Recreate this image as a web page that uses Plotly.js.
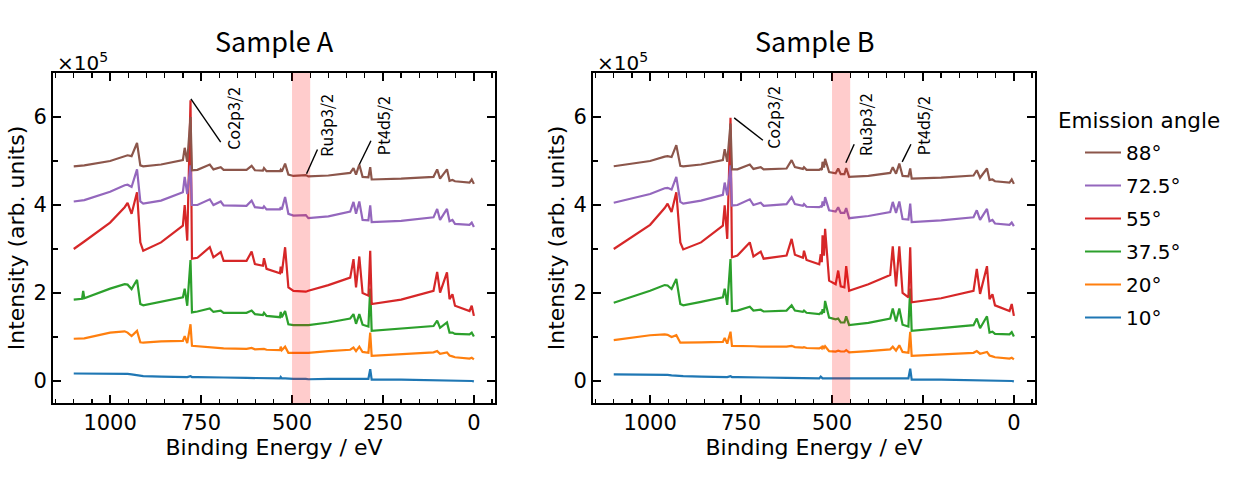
<!DOCTYPE html>
<html><head><meta charset="utf-8">
<script src="https://cdn.plot.ly/plotly-3.0.1.min.js"></script>
<style>html,body{margin:0;padding:0;background:#fff}#chart{width:1240px;height:500px}</style>
</head><body><div id="chart"></div>
<script>
// ---- data (intensity in units of 1e5) ----
const angles = ['10°','20°','37.5°','55°','72.5°','88°'];
const colors = ['#1f77b4','#ff7f0e','#2ca02c','#d62728','#9467bd','#8c564b'];

const energyA = [1100,1077,1074,1071,1000,
  960,952,941,926,917,909,860,
  800,795,788,779,775,760,
  726,716,696,688,625,611,602,
  580,577,570,533,531,528,519,510,
  496,462,455,400,
  340,331,324,315,306,290,285,281,
  200,111,101,93,74,67,59,52,
  12,6,0];
const A_10 = [.17,.17,.17,.17,.17,
  .17,.16,.15,.13,.11,.11,.10,
  .09,.09,.09,.11,.09,.09,
  .08,.08,.08,.08,.07,.07,.07,
  .06,.06,.06,.06,.09,.06,.06,.05,
  .05,.05,.04,.05,
  .05,.05,.05,.05,.05,.05,.27,.03,
  .03,.02,.02,.02,.02,.01,.01,.01,
  0,0,-.01];
const A_20 = [.96,.97,.97,.97,1.10,
  1.13,1.10,1.02,1.14,.88,.87,.90,
  .91,1.02,.86,1.29,.80,.79,
  .77,.76,.74,.74,.73,.75,.72,
  .72,.73,.71,.70,.78,.70,.78,.64,
  .64,.65,.64,.68,
  .71,.76,.68,.78,.66,.64,1.10,.57,
  .60,.65,.68,.62,.65,.58,.56,.54,
  .51,.53,.49];
const A_37 = [1.85,1.87,2.05,1.88,2.10,
  2.20,2.19,2.09,2.30,1.75,1.72,1.80,
  1.90,2.10,1.71,2.75,1.56,1.58,
  1.65,1.57,1.60,1.55,1.55,1.60,1.52,
  1.50,1.55,1.48,1.45,1.57,1.45,1.59,1.29,
  1.27,1.27,1.27,1.33,
  1.42,1.52,1.30,1.52,1.28,1.24,2.10,1.14,
  1.20,1.25,1.37,1.21,1.33,1.10,1.10,1.07,
  1.06,1.10,1.01];
const A_55 = [3.00,3.15,3.15,3.17,3.60,
  3.95,4.05,3.80,4.29,3.15,2.96,3.15,
  3.53,4.00,3.19,6.38,2.78,2.80,
  3.04,2.81,2.93,2.73,2.73,2.94,2.66,
  2.62,2.79,2.55,2.45,2.60,2.45,3.04,2.13,
  2.05,2.03,2.05,2.18,
  2.35,2.77,2.13,2.83,2.00,1.94,2.96,1.75,
  1.85,2.05,2.48,2.01,2.47,1.86,1.97,1.71,
  1.59,1.71,1.48];
const A_72 = [4.08,4.10,4.10,4.11,4.30,
  4.45,4.46,4.41,4.81,4.08,4.03,4.10,
  4.29,4.64,4.25,4.90,4.00,4.00,
  4.13,4.00,4.08,3.99,3.98,4.10,3.95,
  3.93,3.97,3.90,3.90,3.95,3.90,4.18,3.80,
  3.76,3.77,3.70,3.74,
  3.85,4.07,3.80,4.08,3.66,3.65,3.99,3.61,
  3.64,3.72,3.91,3.66,3.91,3.63,3.66,3.57,
  3.55,3.60,3.50];
const A_88 = [4.88,4.90,4.90,4.90,5.00,
  5.12,5.13,5.11,5.41,4.90,4.88,4.92,
  5.02,5.30,4.98,6.00,4.79,4.80,
  4.92,4.81,4.86,4.80,4.80,4.89,4.79,
  4.78,4.84,4.77,4.77,4.80,4.76,4.94,4.69,
  4.66,4.68,4.65,4.67,
  4.73,4.84,4.69,4.92,4.64,4.63,4.86,4.58,
  4.60,4.64,4.81,4.60,4.81,4.55,4.57,4.54,
  4.51,4.58,4.48];

const energyB = [1100,1000,
  960,952,941,928,917,909,860,
  800,795,788,779,775,760,
  726,716,696,688,625,611,602,
  580,577,570,535,531,528,526,522,519,508,
  490,483,476,466,461,453,400,
  340,333,324,315,306,290,285,281,
  200,111,102,93,74,67,59,52,
  12,6,0];
const B_10 = [.15,.15,
  .15,.14,.13,.12,.11,.11,.10,
  .09,.09,.09,.11,.09,.09,
  .08,.08,.08,.08,.07,.07,.07,
  .06,.06,.06,.06,.10,.06,.06,.06,.06,.05,
  .05,.05,.05,.05,.06,.05,.05,
  .06,.06,.06,.06,.06,.06,.28,.03,
  .03,.02,.02,.02,.02,.01,.01,.01,
  0,0,-.01];
const B_20 = [.93,1.04,
  1.06,1.05,1.00,1.04,.87,.87,.88,
  .89,.98,.85,1.12,.80,.80,
  .80,.79,.78,.78,.78,.80,.77,
  .76,.77,.75,.74,.76,.74,.80,.75,.79,.68,
  .67,.69,.67,.67,.70,.65,.68,
  .72,.78,.69,.81,.66,.64,1.12,.57,
  .60,.64,.68,.62,.66,.58,.56,.54,
  .51,.53,.49];
const B_37 = [1.78,2.05,
  2.18,2.17,2.09,2.32,1.75,1.72,1.80,
  1.90,2.10,1.73,2.77,1.59,1.60,
  1.69,1.60,1.62,1.58,1.60,1.72,1.60,
  1.57,1.60,1.55,1.52,1.55,1.52,1.63,1.55,1.82,1.44,
  1.40,1.42,1.33,1.33,1.47,1.27,1.32,
  1.42,1.65,1.35,1.65,1.28,1.24,2.10,1.14,
  1.20,1.27,1.42,1.20,1.47,1.10,1.12,1.07,
  1.06,1.11,1.01];
const B_55 = [3.00,3.55,
  3.93,4.03,3.84,4.29,3.15,2.99,3.15,
  3.53,3.99,3.23,5.98,2.81,2.85,
  3.15,2.83,2.94,2.78,2.85,3.23,2.87,
  2.80,2.96,2.75,2.65,2.88,2.70,3.31,2.85,3.46,2.28,
  2.20,2.51,2.15,2.13,2.61,2.05,2.20,
  2.41,3.06,2.15,3.06,2.00,1.90,3.04,1.79,
  1.88,2.05,2.55,1.98,2.61,1.86,1.97,1.72,
  1.59,1.75,1.48];
const B_72 = [4.05,4.25,
  4.38,4.39,4.35,4.64,4.07,4.03,4.10,
  4.23,4.51,4.22,4.90,3.99,4.00,
  4.13,4.00,4.05,3.98,4.02,4.18,4.02,
  3.98,4.02,3.96,3.95,3.97,3.95,4.08,3.98,4.18,3.88,
  3.85,3.95,3.82,3.82,3.93,3.70,3.75,
  3.84,4.07,3.82,4.08,3.68,3.67,4.03,3.61,
  3.65,3.72,3.88,3.66,3.91,3.63,3.66,3.58,
  3.55,3.60,3.52];
const B_88 = [4.88,5.00,
  5.10,5.11,5.09,5.36,4.89,4.88,4.92,
  5.02,5.27,4.98,5.85,4.81,4.81,
  4.92,4.82,4.86,4.81,4.83,5.02,4.86,
  4.82,4.86,4.80,4.80,4.82,4.80,4.98,4.85,5.05,4.75,
  4.72,4.83,4.70,4.70,4.84,4.64,4.66,
  4.73,4.86,4.71,4.94,4.66,4.65,4.83,4.60,
  4.62,4.67,4.79,4.62,4.83,4.57,4.58,4.54,
  4.51,4.58,4.48];

// shaded region (eV)
const spanE = [450, 500];
// peak labels: leader line from peak to tail, label position
const peakNames = ['Co2p3/2','Ru3p3/2','Pt4d5/2'];
const leadA_peakE = [778,460,315], leadA_peakI = [6.41,4.71,4.92];
const leadA_tailE = [696,430,283], leadA_tailI = [5.43,5.26,5.46];
const labelA_E = [662,407,251],   labelA_I = [5.20,5.06,5.09];
const leadB_peakE = [769,462,307], leadB_peakI = [5.98,4.96,4.98];
const leadB_tailE = [690,439,283], leadB_tailI = [5.47,5.38,5.38];
const labelB_E = [661,409,251],   labelB_I = [5.23,5.06,5.09];

// ---- build ----
const seriesA = [A_10,A_20,A_37,A_55,A_72,A_88];
const seriesB = [B_10,B_20,B_37,B_55,B_72,B_88];
const traces = [];
seriesA.forEach((s,i)=>traces.push({x:energyA,y:s,type:'scatter',mode:'lines',name:angles[i],
  legendgroup:angles[i],legendrank:10-i,line:{color:colors[i],width:2.2},xaxis:'x',yaxis:'y'}));
seriesB.forEach((s,i)=>traces.push({x:energyB,y:s,type:'scatter',mode:'lines',name:angles[i],
  legendgroup:angles[i],legendrank:10-i,showlegend:false,line:{color:colors[i],width:2.2},xaxis:'x2',yaxis:'y2'}));

const FONT = 'DejaVu Sans';
const JFONT = 'Noto Sans CJK JP';
function xax(domain, anchor){
  return {domain:domain, anchor:anchor, range:[1157,-58], tickmode:'linear', tick0:0, dtick:250,
    ticks:'inside', ticklen:8, tickwidth:1.6, tickcolor:'#000', showline:true, linecolor:'#000', linewidth:2,
    mirror:'allticks', showgrid:false, zeroline:false,
    minor:{ticks:'inside', ticklen:4.5, tickwidth:1.3, dtick:50, tick0:0, tickcolor:'#000', showgrid:false},
    tickfont:{family:FONT,size:21,color:'#000'},
    title:{text:'Binding Energy / eV', font:{family:FONT,size:22,color:'#000'}, standoff:4}};
}
function yax(anchor){
  return {domain:[0.194,0.854], anchor:anchor, range:[-0.5,7], tickmode:'linear', tick0:0, dtick:2,
    ticks:'inside', ticklen:8, tickwidth:1.6, tickcolor:'#000', showline:true, linecolor:'#000', linewidth:2,
    mirror:'allticks', showgrid:false, zeroline:false,
    minor:{ticks:'inside', ticklen:4.5, tickwidth:1.3, dtick:1, tick0:0, tickcolor:'#000', showgrid:false},
    tickfont:{family:FONT,size:21,color:'#000'},
    title:{text:'Intensity (arb. units)', font:{family:FONT,size:22,color:'#000'}, standoff:3}};
}

const shapes = [];
const annotations = [];
[['x','y',leadA_peakE,leadA_peakI,leadA_tailE,leadA_tailI,labelA_E,labelA_I],
 ['x2','y2',leadB_peakE,leadB_peakI,leadB_tailE,leadB_tailI,labelB_E,labelB_I]].forEach(p=>{
  const [xr,yr,pE,pI,tE,tI,lE,lI] = p;
  shapes.push({type:'rect', xref:xr, yref:yr+' domain', x0:spanE[0], x1:spanE[1], y0:0, y1:1,
    fillcolor:'rgba(255,0,0,0.2)', line:{width:0}, layer:'above'});
  peakNames.forEach((n,i)=>{
    shapes.push({type:'line', xref:xr, yref:yr, x0:pE[i], y0:pI[i], x1:tE[i], y1:tI[i],
      line:{color:'#000', width:1.4}});
    annotations.push({xref:xr, yref:yr, x:lE[i], y:lI[i], text:n, showarrow:false, textangle:-90,
      xanchor:'center', yanchor:'bottom', font:{family:JFONT, size:16, color:'#000'}});
  });
});
const titles = [['Sample A',274],['Sample B',814]];
titles.forEach(t=>annotations.push({xref:'paper',yref:'paper',x:t[1]/1240,y:1-41/500,text:t[0],showarrow:false,
  xanchor:'center',yanchor:'middle',font:{family:JFONT,size:27,color:'#000'}}));
[55,595].forEach(px=>annotations.push({xref:'paper',yref:'paper',x:px/1240,y:1-62/500,text:'×10<sup>5</sup>',
  showarrow:false,xanchor:'left',yanchor:'middle',font:{family:FONT,size:20,color:'#000'}}));
// legend heading
annotations.push({xref:'paper',yref:'paper',x:1056/1240,y:1-120/500,text:'Emission angle',showarrow:false,
  xanchor:'left',yanchor:'middle',font:{family:FONT,size:21.5,color:'#000'}});

const layout = {
  width:1240, height:500, margin:{l:0,r:0,t:0,b:0}, paper_bgcolor:'#fff', plot_bgcolor:'#fff',
  showlegend:true,
  xaxis: xax([53/1240,495/1240],'y'),
  yaxis: yax('x'),
  xaxis2: xax([593/1240,1035/1240],'y2'),
  yaxis2: yax('x2'),
  legend:{x:1080/1240, y:1-133/500, xanchor:'left', yanchor:'top', traceorder:'grouped',
    tracegroupgap:4, itemwidth:36,
    font:{family:FONT,size:20,color:'#000'}, bgcolor:'rgba(0,0,0,0)', borderwidth:0},
  shapes:shapes, annotations:annotations
};
Plotly.newPlot('chart', traces, layout, {staticPlot:true, displayModeBar:false});
</script></body></html>
